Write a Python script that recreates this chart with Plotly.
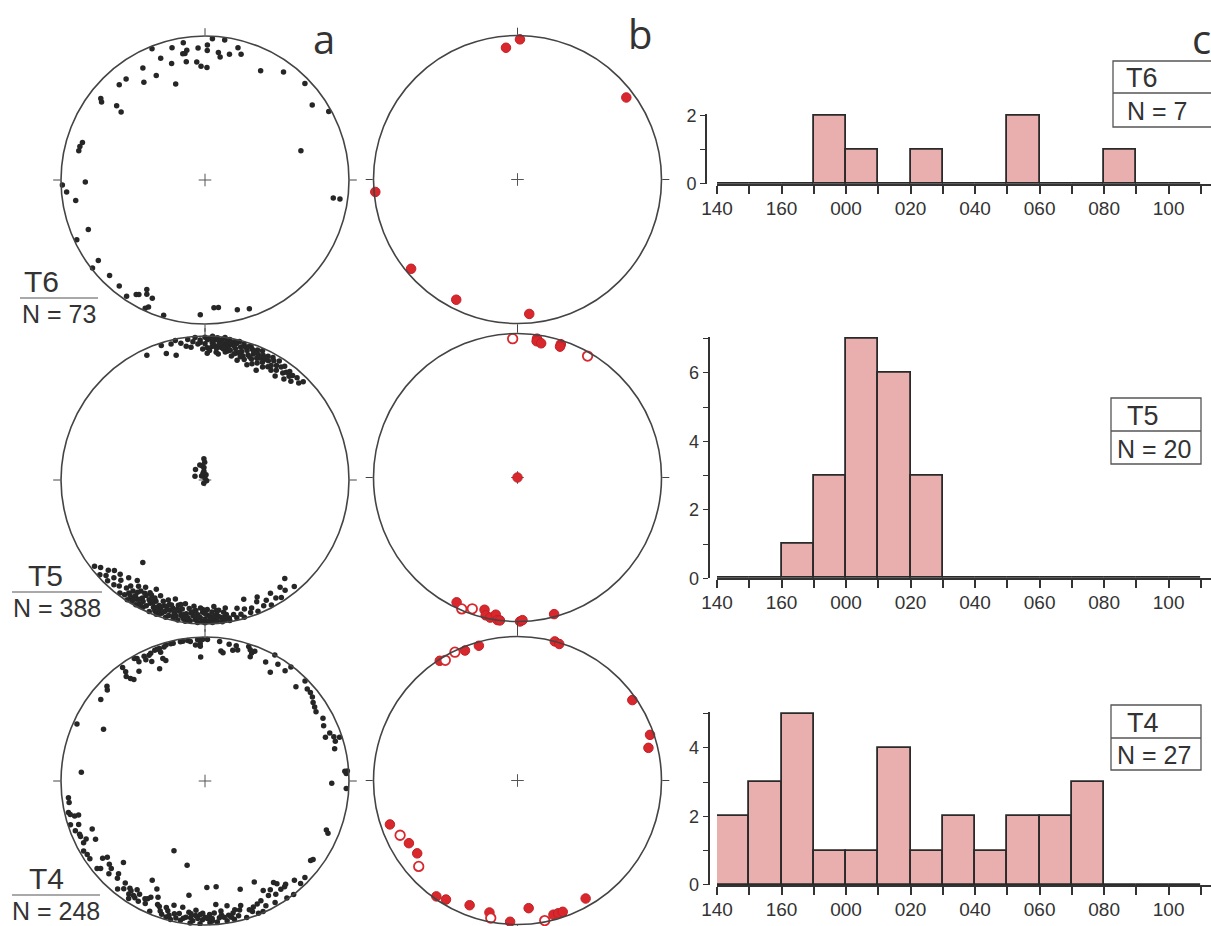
import math
import plotly.graph_objects as go

W, H = 1211, 926

# ---------------- DATA ----------------
# Column a: poles to bedding (trend, plunge) in degrees
t6_poles = [(3,2),(8,2),(351,4),(346,6),(357,9),(1,7),(1,11),(338,2),(351,12),(352,10),(350,12),(6,12),(7,15),(11,12),
            (14,6),(16,10),(340,11),(344,17),(351,18),(356,19),(358,22),(1,23),(331,12),(335,21),(328,21),(343,31),(322,12),
            (318,12),(27,16),(36,8),(46,4),(55,10),(61,2),(308,9),(307,11),(310,21),(309,26),(73,31),(287,12),(285,11),(283,11),
            (269,18),(268,1),(265,4),(261,10),(98,11),(98,6),(247,13),(245,2),(233,8),(232,1),(225,7),(219,6),(214,3),(211,8),
            (210,9),(208,15),(207,12),(204,11),(204,4),(205,2),(197,2),(182,7),(176,12),(174,12),(166,8),(161,6)]

t5_poles_north = [(335,5),(342,2),(343,9),(347,12),(346,3),(348,1),(350,4),(352,7),(353,2),(354,8),(355,4),(356,1),(357,6),
                  (358,3),(359,10),(358,5),(1,13),(5,12),(0,1),(0,6),(1,3),(1,9),(2,2),(2,11),(3,5),(3,0),(4,7),(4,3),(5,9),
                  (5,1),(6,4),(6,13),(7,2),(7,8),(8,5),(8,0),(9,11),(9,3),(10,6),(10,1),(11,9),(11,4),(12,2),(12,13),(13,7),
                  (13,3),(14,10),(14,1),(15,5),(15,15),(16,8),(16,2),(17,11),(17,4),(18,6),(18,13),(19,2),(19,9),(20,4),
                  (20,16),(21,7),(21,11),(22,3),(22,14),(23,6),(23,9),(24,2),(24,12),(25,5),(25,17),(26,8),(26,10),(27,4),
                  (27,13),(28,7),(29,11),(29,3),(30,9),(30,5),(31,12),(32,7),(32,3),(33,10),(34,6),(34,14),(35,4),(36,9),
                  (37,7),(38,5),(38,12),(39,8),(40,6),(41,10),(42,5),(44,7),(45,4),(3,8),(6,6),(9,7),(12,5),(15,9),(18,3),
                  (21,5),(24,8),(10,10),(16,12),(20,10),(26,6),(13,11),(8,9)]
t5_poles_south = [(232,3),(230,6),(228,2),(227,9),(226,5),(225,12),(224,3),(223,8),(222,13),(221,4),(220,10),(219,6),(218,15),
                  (217,29),(217,2),(216,8),(215,3),(215,11),(214,6),(214,17),(213,1),(213,9),(212,4),(212,14),(211,7),(211,2),
                  (210,12),(210,5),(209,16),(209,1),(208,8),(208,3),(207,11),(207,6),(206,14),(206,2),(205,9),(205,4),(204,18),
                  (204,7),(203,1),(203,12),(202,5),(202,10),(201,3),(201,15),(200,8),(200,1),(199,6),(199,12),(198,3),(198,9),
                  (197,14),(197,5),(196,1),(196,11),(195,7),(195,3),(194,16),(194,9),(193,2),(193,6),(192,12),(192,4),(191,8),
                  (191,1),(190,10),(190,5),(189,14),(189,3),(188,7),(188,1),(187,11),(187,4),(186,8),(186,2),(185,13),(185,6),
                  (184,3),(184,10),(183,1),(183,7),(182,5),(182,12),(181,2),(181,9),(180,4),(180,1),(179,7),(179,11),(178,3),
                  (178,6),(177,1),(177,9),(176,4),(176,13),(175,2),(175,7),(174,5),(174,10),(173,1),(173,4),(172,8),(172,2),
                  (171,6),(171,11),(170,3),(170,1),(168,5),(167,2),(166,9),(165,4),(164,1),(163,7),(162,14),(161,3),(160,6),
                  (158,2),(157,9),(156,12),(155,4),(153,7),(152,2),(150,10),(149,5),(147,3),(145,10),(144,6),(141,13),(140,4),
                  (213,5),(211,10),(209,6),(207,2),(205,13),(203,8),(201,6),(199,2),(197,9),(195,11),(193,4),(191,13),(189,6),
                  (187,2),(185,9),(183,4),(181,11),(179,2),(177,5),(175,10),(208,12),(204,10),(200,4),(196,7),(192,9),(188,4),
                  (184,6),(180,8),(176,6),(172,4)]
t5_poles_centre = [(357,78),(359,80),(341,81),(349,82),(355,83),(318,82),(353,85),(290,84),(320,87),(0,89),(112,89),
                   (200,88),(11,87),(344,86)]

t4_poles = [(336,5),(334,4),(331,3),(331,6),(334,7),(337,4),(339,3),(340,3),(341,3),(343,3),(344,2),(346,2),(347,2),(350,2),
            (351,2),(341,6),(342,13),(336,10),(341,11),(330,2),(353,2),(354,3),(357,2),(358,5),(359,2),(358,7),(356,6),(358,15),
            (1,2),(6,3),(7,10),(8,11),(10,4),(12,8),(13,4),(14,7),(18,2),(19,4),(20,6),(20,9),(21,4),(27,8),(31,13),(29,0),
            (32,5),(36,6),(37,1),(324,3),(324,7),(323,10),(324,13),(325,15),(329,12),(338,17),(314,6),(313,8),(308,9),(294,3),
            (297,22),(45,2),(44,10),(48,5),(50,5),(52,6),(54,8),(56,9),(58,10),(62,8),(65,10),(70,12),(69,8),(71,6),(73,6),
            (72,2),(76,8),(86,3),(87,2),(86,1),(91,13),(93,2),(112,10),(113,8),(127,9),(274,15),(263,5),(261,5),(257,3),
            (256,4),(255,7),(255,10),(251,8),(249,4),(247,6),(246,6),(247,16),(244,9),(242,15),(243,6),(238,4),(236,4),
            (231,4),(230,6),(233,12),(232,15),(229,13),(227,12),(223,13),(225,21),(204,46),(192,40),(222,10),(215,10),
            (214,9),(212,12),(210,10),(214,6),(213,3),(209,5),(206,6),(205,12),(208,23),(204,19),(201,9),(200,8),(203,2),
            (197,9),(196,7),(194,12),(193,6),(191,7),(188,5),(194,1),(190,12),(188,21),(186,8),(184,11),(184,7),(182,8),
            (181,9),(179,5),(178,8),(177,5),(179,27),(174,27),(175,15),(173,10),(170,13),(172,5),(168,7),(162,22),(165,8),
            (154,23),(159,7),(158,1),(156,1),(154,4),(152,15),(151,10),(149,13),(146,16),(145,14),(145,9),(143,9),(145,1),
            (142,10),(138,8),(142,0),(137,3),(134,4),(126,8),(183,5),(175,2),(171,2),(168,2),(163,1),(160,4),(157,8),(186,1),
            (182,1),(198,3),(196,2),(190,2),(189,4),(187,9),(185,3),(181,4),(178,2),(176,9),(174,5),(170,6),(166,4),(164,11),
            (207,9),(211,6),(217,7),(219,4),(226,8),(240,3),(252,2),(199,5),(195,4),(192,3),(186,5),(180,6),(177,3),
            (173,7),(169,4),(167,9),(161,6),(155,9),(150,3),(148,8),(218,11),(212,7),(206,10),(202,14)]

# Column b: fold axes / lineations (trend, plunge); filled and open symbols
t6_b_filled = [(355,9),(1,3),(53,6),(265,1),(230,4),(207,7),(175,7)]
t6_b_open = []
t5_b_filled = [(8,3),(8,5),(10,6),(18,3),(18,5),(0,90),(206,4),(194,6),(193,2),(191,1),(189,4),(188,0),(187,0),(179,0),
               (178,1),(165,2)]
t5_b_open = [(358,4),(30,3),(203,1),(199,4)]
t4_b_filled = [(327,1),(338,3),(344,3),(15,0),(17,1),(55,3),(71,3),(76,7),(251,7),(240,14),(234,15),(215,2),(211,4),
               (201,8),(192,7),(183,2),(175,12),(165,4),(163,4),(161,4),(150,6)]
t4_b_open = [(329,3),(334,1),(245,11),(229,10),(191,3),(169,1)]

# Column c: histograms of trend (10 degree bins starting at these positions; 180 = 000)
bin_starts = [140,150,160,170,180,190,200,210,220,230,240,250,260,270,280]
t6_counts = [0,0,0,2,1,0,1,0,0,2,0,0,1,0,0]
t5_counts = [0,0,1,3,7,6,3,0,0,0,0,0,0,0,0]
t4_counts = [2,3,5,1,1,4,1,2,1,2,2,3,0,0,0]
hist_tick_pos = [140,150,160,170,180,190,200,210,220,230,240,250,260,270,280,290]
hist_tick_text = ['140','','160','','000','','020','','040','','060','','080','','100','']

row_labels = ['T6', 'T5', 'T4']
n_stereo = ['N = 73', 'N = 388', 'N = 248']
n_hist = ['N = 7', 'N = 20', 'N = 27']

# ---------------- HELPERS ----------------
def schmidt_r(plunge):
    return math.sqrt(2) * math.sin(math.radians(90 - plunge) / 2)

def split(pairs):
    return [p[0] for p in pairs], [schmidt_r(p[1]) for p in pairs]

def px(x):
    return x / W

def py(y):
    return 1 - y / H

INK = '#333333'
RED = '#d8282d'
PINK = '#e9aeae'
SANS = 'Liberation Sans, Arial, sans-serif'

fig = go.Figure()

# ---------------- STEREONETS ----------------
R = 144
centres = {
    'polar':  (205, 180), 'polar2': (517.5, 179.5),
    'polar3': (205, 480), 'polar4': (517.5, 477.5),
    'polar5': (205, 781), 'polar6': (517.5, 780.5),
}

def add_centre(sub):
    fig.add_trace(go.Scatterpolar(theta=[0], r=[0], mode='markers', subplot=sub, showlegend=False,
                                  marker=dict(symbol='cross-thin', size=9, line=dict(color='#555', width=1))))

def add_black(sub, pairs):
    th, rr = split(pairs)
    fig.add_trace(go.Scatterpolar(theta=th, r=rr, mode='markers', subplot=sub, showlegend=False, cliponaxis=False,
                                  marker=dict(size=5.5, color='#262626')))

def add_red(sub, filled, opened):
    if filled:
        th, rr = split(filled)
        fig.add_trace(go.Scatterpolar(theta=th, r=rr, mode='markers', subplot=sub, showlegend=False, cliponaxis=False,
                                      marker=dict(size=9.5, color=RED, line=dict(color='#c21f25', width=1))))
    if opened:
        th, rr = split(opened)
        fig.add_trace(go.Scatterpolar(theta=th, r=rr, mode='markers', subplot=sub, showlegend=False, cliponaxis=False,
                                      marker=dict(size=9.5, color='white', line=dict(color=RED, width=1.8))))

for sub in centres:
    add_centre(sub)

add_black('polar', t6_poles)
add_black('polar3', t5_poles_north + t5_poles_south + t5_poles_centre)
add_black('polar5', t4_poles)
add_red('polar2', t6_b_filled, t6_b_open)
add_red('polar4', t5_b_filled, t5_b_open)
add_red('polar6', t4_b_filled, t4_b_open)

polar_layout = {}
for sub, (cx, cy) in centres.items():
    polar_layout[sub] = dict(
        domain=dict(x=[px(cx - R), px(cx + R)], y=[py(cy + R), py(cy - R)]),
        bgcolor='rgba(0,0,0,0)',
        radialaxis=dict(range=[0, 1], visible=False),
        angularaxis=dict(rotation=90, direction='clockwise', showgrid=False, showline=True,
                         linecolor='#444', linewidth=1.6, ticks='outside', ticklen=7, tickwidth=1.2,
                         tickcolor='#444', tickmode='array', tickvals=[0, 90, 180, 270], showticklabels=False),
    )

# ---------------- HISTOGRAMS ----------------
bin_centres = [b + 5 for b in bin_starts]
hist_specs = [
    # (axis suffix, counts, y-zero px, y-max, y-axis x px)
    ('', t6_counts, 184, 2, 706),
    ('2', t5_counts, 578.3, 7, 708.5),
    ('3', t4_counts, 885, 5, 708.5),
]
unit_px = 34.25
x_px_per_deg = 3.226
x0_px = 717
x_end = 140 + (W - x0_px) / x_px_per_deg
head = 0.05  # a little headroom so the top outline of the tallest bar is not clipped

axes_layout = {}
for suf, counts, y0, ymax, yax_px in hist_specs:
    fig.add_trace(go.Bar(x=bin_centres, y=counts, width=10, xaxis='x' + suf, yaxis='y' + suf,
                         marker=dict(color=PINK, line=dict(color='#2a2a2a', width=1.8)),
                         showlegend=False))
    top = y0 - (ymax + head) * unit_px
    axes_layout['xaxis' + suf] = dict(
        domain=[px(x0_px), 1.0], range=[140, x_end], anchor='y' + suf, automargin=False,
        showline=True, linecolor='#333', linewidth=2, showgrid=False, zeroline=False,
        ticks='outside', ticklen=8, tickwidth=1.6, tickcolor='#333',
        tickmode='array', tickvals=hist_tick_pos, ticktext=hist_tick_text,
        tickfont=dict(family=SANS, size=19, color=INK),
        ticklabelstandoff=-2,
    )
    yt = list(range(0, ymax + 1))
    axes_layout['yaxis' + suf] = dict(
        domain=[py(y0), py(top)], range=[0, ymax + head], anchor='free', position=px(yax_px), automargin=False,
        showline=True, linecolor='#333', linewidth=2, showgrid=False, zeroline=False,
        ticks='outside', ticklen=5, tickwidth=1.4, tickcolor='#333',
        tickmode='array', tickvals=yt, ticktext=[str(v) if v % 2 == 0 else '' for v in yt],
        tickfont=dict(family=SANS, size=18, color=INK),
    )

# ---------------- TEXT & FRAMES ----------------
annotations = []
shapes = []

def text(x, y, s, size, anchor='center', yanchor='middle', fam=SANS):
    annotations.append(dict(x=px(x), y=py(y), xref='paper', yref='paper', text=s, showarrow=False,
                            xanchor=anchor, yanchor=yanchor, borderpad=0,
                            font=dict(family=fam, size=size, color=INK)))

def hline(x0, x1, y, w=1.3, c='#444'):
    shapes.append(dict(type='line', xref='paper', yref='paper', x0=px(x0), x1=px(x1), y0=py(y), y1=py(y),
                       line=dict(color=c, width=w)))

# panel letters
text(324, 38, 'a', 40, fam='Open Sans, sans-serif')
text(640, 33, 'b', 40, fam='Open Sans, sans-serif')
text(1191, 38, 'c', 40, anchor='left', fam='Open Sans, sans-serif')

# stereonet labels: title above a rule, sample size below it
stereo_lab = [  # (T centre x, line y, line x0, line x1, N centre x)
    (41, 298, 20, 98, 59),
    (45, 592, 12, 102, 57),
    (46, 895, 12, 100, 56),
]
for lab, n, (tx, ly, lx0, lx1, nx) in zip(row_labels, n_stereo, stereo_lab):
    text(tx, ly + 1, lab, 30, yanchor='bottom')
    hline(lx0, lx1, ly, w=1.2, c='#555')
    text(nx, ly + 1.2, n, 25, yanchor='top')

# histogram label boxes
boxes = [  # (x0, x1, y0, ydiv, y1, T centre x, N centre x)
    (1113, 1216, 61, 93, 127, 1142, 1157),
    (1111, 1201, 398, 431, 464, 1143, 1154),
    (1111, 1201, 705, 738, 770, 1143, 1154),
]
for lab, n, (bx0, bx1, by0, bdv, by1, tcx, ncx) in zip(row_labels, n_hist, boxes):
    shapes.append(dict(type='rect', xref='paper', yref='paper', x0=px(bx0), x1=px(bx1), y0=py(by1), y1=py(by0),
                       line=dict(color='#555', width=1.3), fillcolor='rgba(0,0,0,0)'))
    hline(bx0, bx1, bdv, w=1.3, c='#555')
    text(tcx, (by0 + bdv) / 2 + 1, lab, 27)
    text(ncx, (bdv + by1) / 2 + 1, n, 25)

fig.update_layout(
    width=W, height=H, margin=dict(l=0, r=0, t=0, b=0, pad=0, autoexpand=False),
    paper_bgcolor='white', plot_bgcolor='white',
    showlegend=False, bargap=0,
    annotations=annotations, shapes=shapes,
    **polar_layout, **axes_layout,
)

fig.write_html('out.html', config={'displayModeBar': False},
               post_script="document.body.style.margin='0px';")
